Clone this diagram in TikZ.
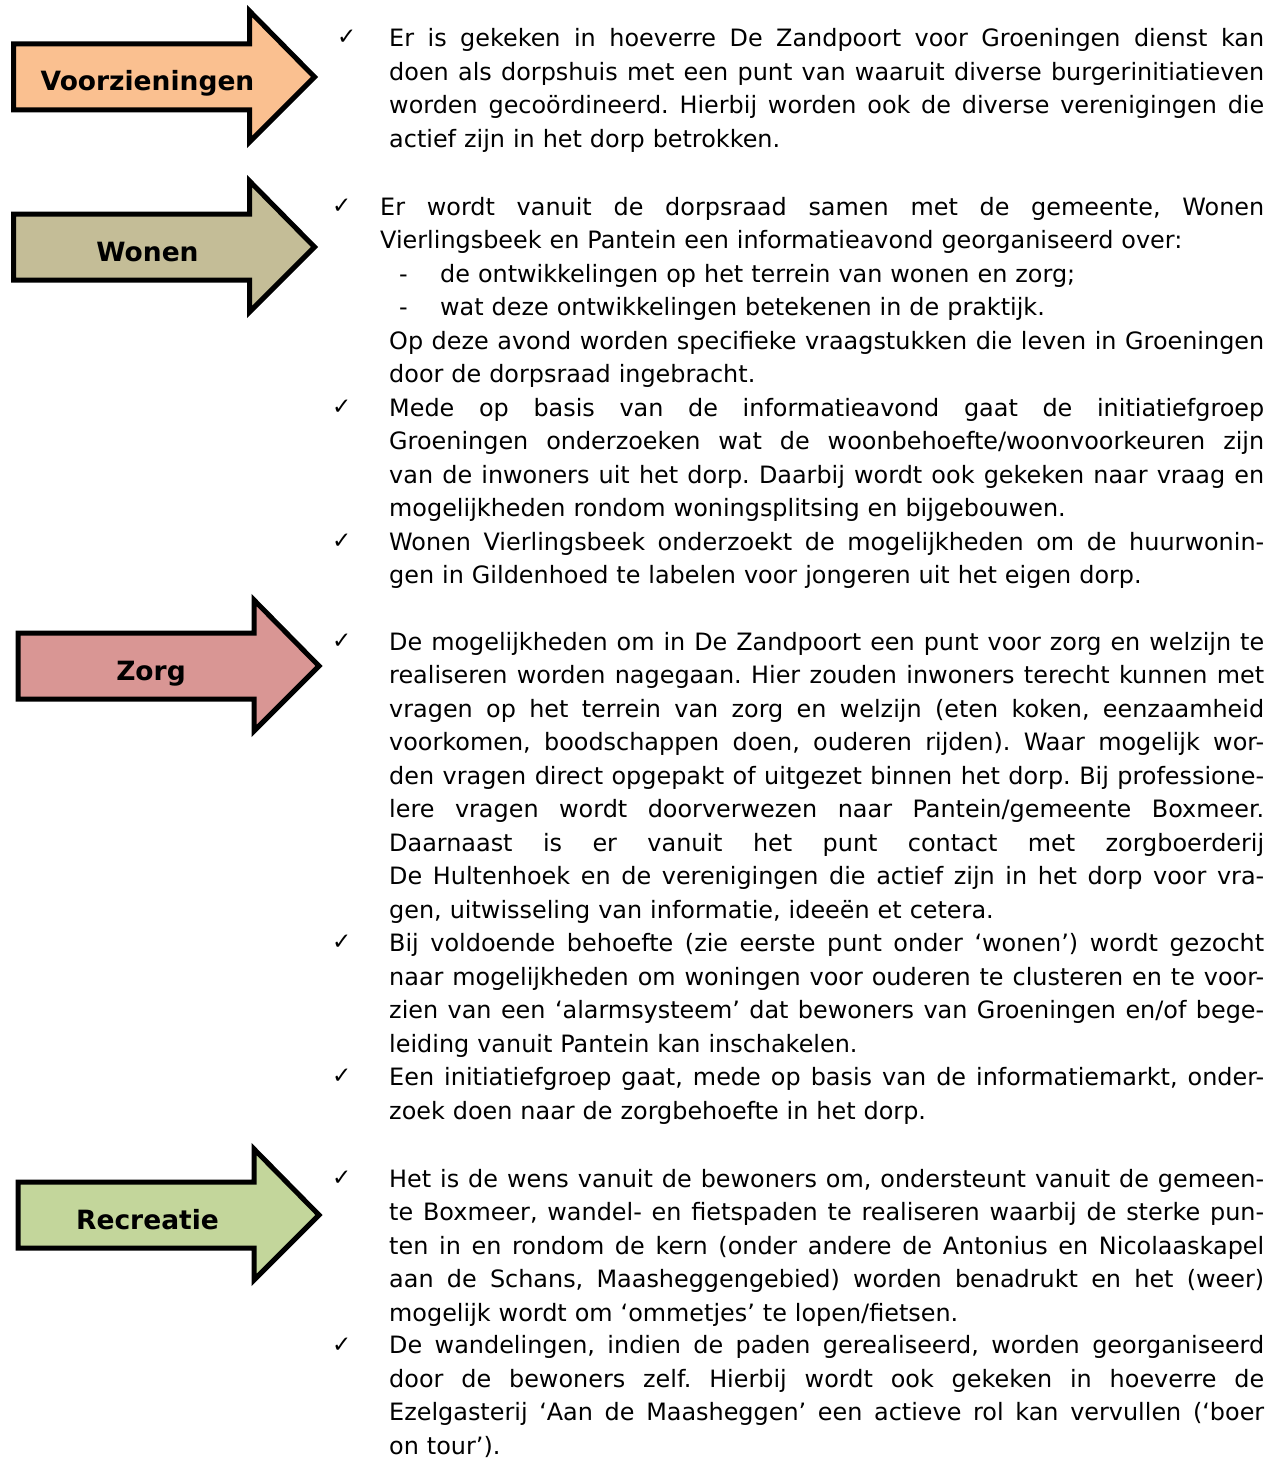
\documentclass[tikz,border=0pt]{standalone}
\usepackage{fontspec}
\setmainfont{DejaVu Sans}
\definecolor{cVoor}{HTML}{FAC090}
\definecolor{cWonen}{HTML}{C4BD97}
\definecolor{cZorg}{HTML}{D99694}
\definecolor{cRecr}{HTML}{C3D69B}
\newcommand{\jline}[2][875pt]{\noindent\hbox to #1{\spaceskip=.318em plus 1fil\relax #2}\par}
\newcommand{\lline}[1]{\noindent #1\par}
\newcommand{\ijline}[1]{\noindent\hbox to 884pt{\hskip 9pt\spaceskip=.318em plus 1fil\relax #1}\par}
\newcommand{\illine}[1]{\noindent\hspace*{9pt}#1\par}
\newcommand{\dline}[1]{\noindent\hspace*{19pt}\makebox[41pt][l]{-}#1\par}
\tikzset{
  arrowline/.style={draw=black, line width=5pt, line join=miter, miter limit=10},
  bigarrow/.pic={\path[arrowline, pic actions] (13.5,44) -- (249.5,44) -- (249.5,11) -- (314.5,77) -- (249.5,142) -- (249.5,110) -- (13.5,110) -- cycle;},
  arrowlabel/.style={font=\fontsize{26.5pt}{30pt}\selectfont\bfseries, anchor=base, inner sep=0pt},
  itembox/.style={anchor=base west, inner sep=0pt, text width=875pt, font=\fontsize{23.9pt}{33.5pt}\selectfont\frenchspacing},
  checkmk/.style={anchor=base west, inner sep=0pt, font=\fontsize{23pt}{23pt}\selectfont},
}
\begin{document}
\begin{tikzpicture}[x=1pt, y=-1pt]
\useasboundingbox (0,0) rectangle (1276,1458);
% arrows
\pic[fill=cVoor] at (0,0) {bigarrow};
\pic[fill=cWonen] at (0,170) {bigarrow};
\pic[fill=cZorg] at (4.5,589) {bigarrow};
\pic[fill=cRecr] at (4.5,1138) {bigarrow};
\node[arrowlabel] (lvoor) at (147.5,91) {Voorzieningen};
\node[arrowlabel] (lwonen) at (147.5,261) {Wonen};
\node[arrowlabel] (lzorg) at (151,680) {Zorg};
\node[arrowlabel] (lrecr) at (147.5,1229) {Recreatie};
% check marks
\node[checkmk] (c1) at (337,45) {✓};
\node[checkmk] (c2) at (332,213) {✓};
\node[checkmk] (c3) at (332,414) {✓};
\node[checkmk] (c4) at (332,548) {✓};
\node[checkmk] (c5) at (332,648) {✓};
\node[checkmk] (c6) at (332,949.5) {✓};
\node[checkmk] (c7) at (332,1083.5) {✓};
\node[checkmk] (c8) at (332,1185) {✓};
\node[checkmk] (c9) at (332,1352.5) {✓};
% texts
\node[itembox] (t1) at (389,47) {%
\jline{Er is gekeken in hoeverre De Zandpoort voor Groeningen dienst kan}
\jline{doen als dorpshuis met een punt van waaruit diverse burgerinitiatieven}
\jline{worden gecoördineerd. Hierbij worden ook de diverse verenigingen die}
\lline{actief zijn in het dorp betrokken.}};
\node[itembox, text width=884pt] (t2) at (380,215) {%
\jline[884pt]{Er wordt vanuit de dorpsraad samen met de gemeente, Wonen}
\lline{Vierlingsbeek en Pantein een informatieavond georganiseerd over:}
\dline{de ontwikkelingen op het terrein van wonen en zorg;}
\dline{wat deze ontwikkelingen betekenen in de praktijk.}
\ijline{Op deze avond worden specifieke vraagstukken die leven in Groeningen}
\illine{door de dorpsraad ingebracht.}};
\node[itembox] (t3) at (389,416) {%
\jline{Mede op basis van de informatieavond gaat de initiatiefgroep}
\jline{Groeningen onderzoeken wat de woonbehoefte/woonvoorkeuren zijn}
\jline{van de inwoners uit het dorp. Daarbij wordt ook gekeken naar vraag en}
\lline{mogelijkheden rondom woningsplitsing en bijgebouwen.}};
\node[itembox] (t4) at (389,550) {%
\jline{Wonen Vierlingsbeek onderzoekt de mogelijkheden om de huurwonin-}
\lline{gen in Gildenhoed te labelen voor jongeren uit het eigen dorp.}};
\node[itembox] (t5) at (389,650) {%
\jline{De mogelijkheden om in De Zandpoort een punt voor zorg en welzijn te}
\jline{realiseren worden nagegaan. Hier zouden inwoners terecht kunnen met}
\jline{vragen op het terrein van zorg en welzijn (eten koken, eenzaamheid}
\jline{voorkomen, boodschappen doen, ouderen rijden). Waar mogelijk wor-}
\jline{den vragen direct opgepakt of uitgezet binnen het dorp. Bij professione-}
\jline{lere vragen wordt doorverwezen naar Pantein/gemeente Boxmeer.}
\jline{Daarnaast is er vanuit het punt contact met zorgboerderij}
\jline{De Hultenhoek en de verenigingen die actief zijn in het dorp voor vra-}
\lline{gen, uitwisseling van informatie, ideeën et cetera.}};
\node[itembox] (t6) at (389,951.5) {%
\jline{Bij voldoende behoefte (zie eerste punt onder ‘wonen’) wordt gezocht}
\jline{naar mogelijkheden om woningen voor ouderen te clusteren en te voor-}
\jline{zien van een ‘alarmsysteem’ dat bewoners van Groeningen en/of bege-}
\lline{leiding vanuit Pantein kan inschakelen.}};
\node[itembox] (t7) at (389,1085.5) {%
\jline{Een initiatiefgroep gaat, mede op basis van de informatiemarkt, onder-}
\lline{zoek doen naar de zorgbehoefte in het dorp.}};
\node[itembox] (t8) at (389,1187) {%
\jline{Het is de wens vanuit de bewoners om, ondersteunt vanuit de gemeen-}
\jline{te Boxmeer, wandel- en fietspaden te realiseren waarbij de sterke pun-}
\jline{ten in en rondom de kern (onder andere de Antonius en Nicolaaskapel}
\jline{aan de Schans, Maasheggengebied) worden benadrukt en het (weer)}
\lline{mogelijk wordt om ‘ommetjes’ te lopen/fietsen.}};
\node[itembox] (t9) at (389,1353.5) {%
\jline{De wandelingen, indien de paden gerealiseerd, worden georganiseerd}
\jline{door de bewoners zelf. Hierbij wordt ook gekeken in hoeverre de}
\jline{Ezelgasterij ‘Aan de Maasheggen’ een actieve rol kan vervullen (‘boer}
\lline{on tour’).}};
\end{tikzpicture}
\end{document}
